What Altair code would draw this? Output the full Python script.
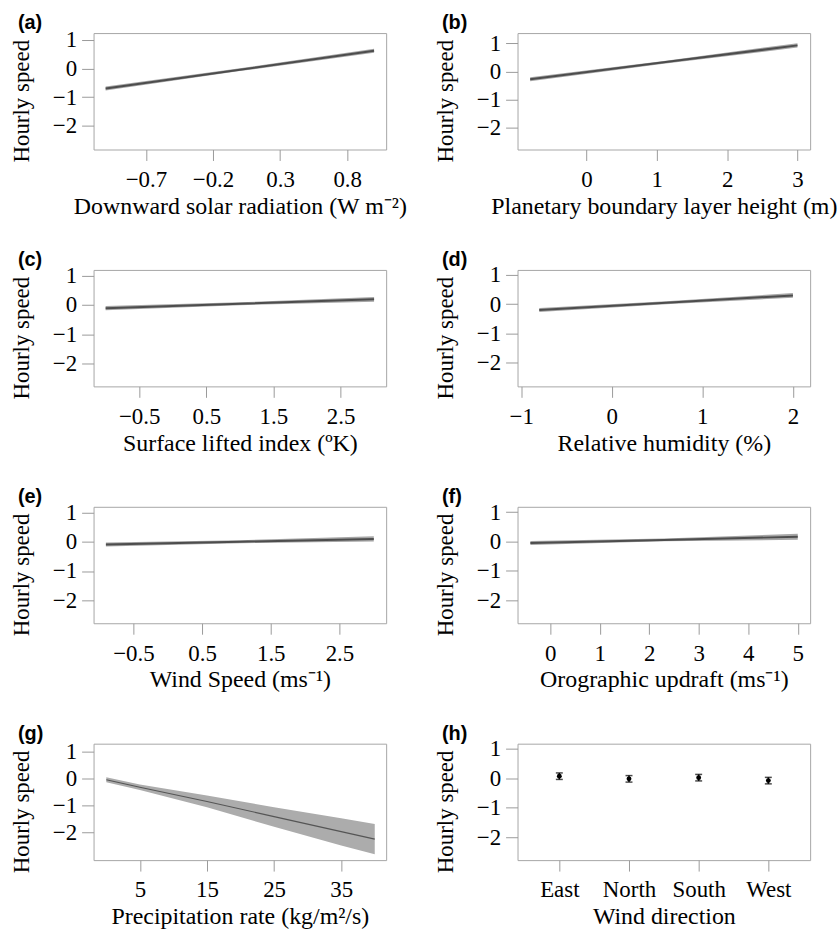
import altair as alt
import pandas as pd

SERIF = "Liberation Serif"
SANS = "Liberation Sans"

# ---- data -------------------------------------------------------------
# (a) Downward solar radiation
a_x = [-1.0, 0.0, 1.0]
a_fit = [-0.70, -0.04, 0.62]
a_lo = [-0.77, -0.09, 0.55]
a_hi = [-0.63, 0.01, 0.69]
# (b) Planetary boundary layer height
b_x = [-0.8, 1.1, 3.0]
b_fit = [-0.28, 0.325, 0.93]
b_lo = [-0.35, 0.275, 0.85]
b_hi = [-0.21, 0.375, 1.01]
# (c) Surface lifted index
c_x = [-1.0, 1.0, 3.0]
c_fit = [-0.11, 0.04, 0.19]
c_lo = [-0.18, -0.01, 0.11]
c_hi = [-0.04, 0.09, 0.27]
# (d) Relative humidity
d_x = [-0.8, 0.6, 2.0]
d_fit = [-0.20, 0.05, 0.30]
d_lo = [-0.27, 0.00, 0.22]
d_hi = [-0.13, 0.10, 0.38]
# (e) Wind speed
e_x = [-0.9, 1.05, 3.0]
e_fit = [-0.09, 0.005, 0.10]
e_lo = [-0.16, -0.045, 0.01]
e_hi = [-0.02, 0.055, 0.19]
# (f) Orographic updraft
f_x = [-0.4, 2.3, 5.0]
f_fit = [-0.05, 0.055, 0.16]
f_lo = [-0.12, 0.005, 0.06]
f_hi = [0.02, 0.105, 0.26]
# (g) Precipitation rate
g_x = [0, 5, 15, 25, 35, 40]
g_fit = [-0.03, -0.31, -0.84, -1.40, -1.96, -2.24]
g_lo = [-0.12, -0.41, -1.05, -1.78, -2.48, -2.80]
g_hi = [0.06, -0.21, -0.62, -1.05, -1.46, -1.68]
# (h) Wind direction
h_cat = ["East", "North", "South", "West"]
h_est = [0.07, -0.02, 0.02, -0.08]
h_lo = [-0.04, -0.13, -0.09, -0.19]
h_hi = [0.18, 0.09, 0.13, 0.03]

Y_TICKS = [1, 0, -1, -2]
W, H = 294, 117


def y_axis():
    return alt.Axis(values=Y_TICKS, tickCount=10, format="d", domain=False,
                    grid=False, tickColor="#9a9a9a", tickSize=12, labelPadding=5,
                    titlePadding=19, labelFont=SERIF, labelFontSize=23,
                    titleFont=SERIF, titleFontSize=23, titleFontWeight="normal",
                    labelColor="black", titleColor="black", labelOverlap=False,
                    labelFlush=False, titleY=68, title="Hourly speed")


def x_axis(ticks, fmt, title):
    kw = dict(domain=False, grid=False, tickColor="#9a9a9a", tickSize=11,
              labelPadding=8, titlePadding=3, labelFont=SERIF, labelFontSize=23,
              titleFont=SERIF, titleFontSize=24, titleFontWeight="normal",
              labelColor="black", titleColor="black", labelFlush=False,
              labelOverlap=False, labelAngle=0, tickCount=10, title=title)
    if ticks is not None:
        kw["values"] = ticks
    if fmt is not None:
        kw["format"] = fmt
    return alt.Axis(**kw)


def label_mark(text):
    return alt.Chart(alt.Data(values=[{"label": text}])).mark_text(
        align="left", baseline="alphabetic", font=SANS, fontWeight="bold",
        fontSize=20, color="black"
    ).encode(x=alt.value(-76), y=alt.value(-4), text="label:N")


def line_panel(label, xs, fit, lo, hi, xdom, ydom, xticks, xfmt, xtitle,
               band_color="#a6a6a6", line_color="#4d4d4d", line_w=2):
    df = pd.DataFrame({"x": xs, "fit": fit, "lo": lo, "hi": hi})
    xs_ = alt.Scale(domain=xdom, nice=False, zero=False)
    ys_ = alt.Scale(domain=ydom, nice=False, zero=False)
    base = alt.Chart(df)
    band = base.mark_area(color=band_color, opacity=1).encode(
        x=alt.X("x:Q", scale=xs_, axis=x_axis(xticks, xfmt, xtitle)),
        y=alt.Y("lo:Q", scale=ys_, axis=y_axis()),
        y2="hi:Q",
    )
    line = base.mark_line(color=line_color, strokeWidth=line_w).encode(
        x=alt.X("x:Q", scale=xs_), y=alt.Y("fit:Q", scale=ys_))
    return alt.layer(band, line, label_mark(label)).properties(width=W, height=H)


pa = line_panel("(a)", a_x, a_fit, a_lo, a_hi, [-1.09, 1.09], [-2.83, 1.24],
                [-0.7, -0.2, 0.3, 0.8], ".1f", "Downward solar radiation (W m⁻²)")
pb = line_panel("(b)", b_x, b_fit, b_lo, b_hi, [-0.98, 3.18], [-2.79, 1.37],
                [0, 1, 2, 3], "d", "Planetary boundary layer height (m)")
pc = line_panel("(c)", c_x, c_fit, c_lo, c_hi, [-1.18, 3.18], [-2.77, 1.19],
                [-0.5, 0.5, 1.5, 2.5], ".1f", "Surface lifted index (ºK)")
pd_ = line_panel("(d)", d_x, d_fit, d_lo, d_hi, [-1.04, 2.19], [-2.81, 1.17],
                 [-1, 0, 1, 2], "d", "Relative humidity (%)")
pe = line_panel("(e)", e_x, e_fit, e_lo, e_hi, [-1.08, 3.18], [-2.79, 1.2],
                [-0.5, 0.5, 1.5, 2.5], ".1f", "Wind Speed (ms⁻¹)")
pf = line_panel("(f)", f_x, f_fit, f_lo, f_hi, [-0.66, 5.25], [-2.78, 1.18],
                [0, 1, 2, 3, 4, 5], "d", "Orographic updraft (ms⁻¹)")
pg = line_panel("(g)", g_x, g_fit, g_lo, g_hi, [-1.9, 41.7], [-3.02, 1.31],
                [5, 15, 25, 35], "d", "Precipitation rate (kg/m²/s)",
                band_color="#acacac", line_color="#555555", line_w=1.2)

hdf = pd.DataFrame({"dir": h_cat, "est": h_est, "lo": h_lo, "hi": h_hi})
hx = alt.Scale(type="point", domain=h_cat, padding=0.6)
hy = alt.Scale(domain=[-2.77, 1.17], nice=False, zero=False)
hbase = alt.Chart(hdf)
h_rule = hbase.mark_rule(color="black", strokeWidth=1.5).encode(
    x=alt.X("dir:N", scale=hx, axis=x_axis(None, None, "Wind direction")),
    y=alt.Y("lo:Q", scale=hy, axis=y_axis()), y2="hi:Q")
h_cap_lo = hbase.mark_tick(color="black", size=7, thickness=1.5).encode(
    x=alt.X("dir:N", scale=hx), y=alt.Y("lo:Q", scale=hy))
h_cap_hi = hbase.mark_tick(color="black", size=7, thickness=1.5).encode(
    x=alt.X("dir:N", scale=hx), y=alt.Y("hi:Q", scale=hy))
h_pt = hbase.mark_point(color="black", filled=True, size=24, opacity=1).encode(
    x=alt.X("dir:N", scale=hx), y=alt.Y("est:Q", scale=hy))
ph = alt.layer(h_rule, h_cap_lo, h_cap_hi, h_pt, label_mark("(h)")).properties(
    width=W, height=H)

chart = alt.concat(
    pa, pb, pc, pd_, pe, pf, pg, ph,
    columns=2,
    spacing={"row": 121, "column": 132},
    bounds="flush",
).properties(
    padding={"left": 10, "top": 10, "right": 0, "bottom": 0},
    background="white",
).configure_view(stroke="#a6a6a6", strokeWidth=1)

chart.save("out.html", embed_options={"renderer": "svg", "actions": False})
